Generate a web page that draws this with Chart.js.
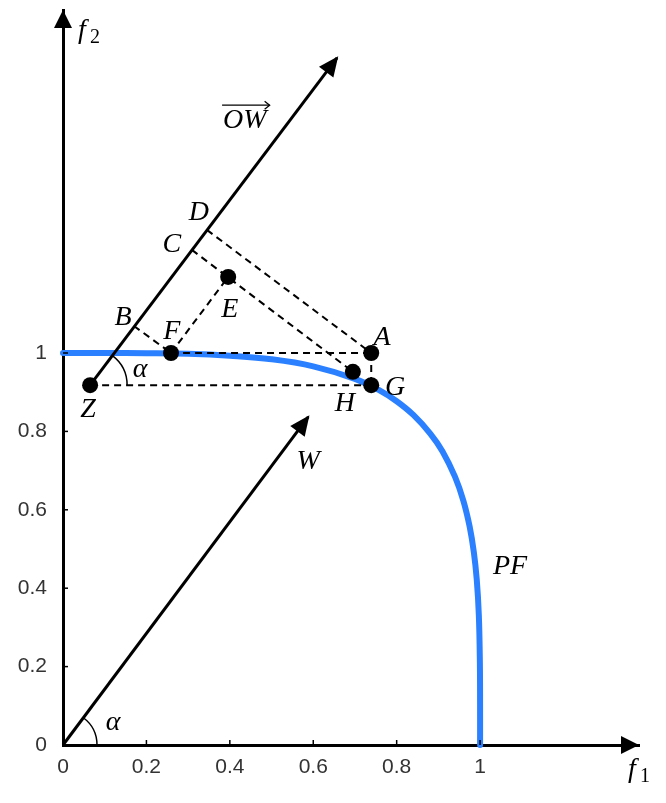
<!DOCTYPE html>
<html><head><meta charset="utf-8">
<script src="https://cdn.jsdelivr.net/npm/chart.js@4"></script>
<style>html,body{margin:0;padding:0;background:#fff}#wrap{width:666px;height:803px;position:relative}</style>
</head><body><div id="wrap"><canvas id="c"></canvas></div>
<script>
// ---- data ----
const tickValues = [0, 0.2, 0.4, 0.6, 0.8, 1];
const tickLabels = ['0', '0.2', '0.4', '0.6', '0.8', '1'];

// Pareto front (PF)
const frontX = [0, 0.1, 0.2, 0.3, 0.4, 0.5, 0.6, 0.7, 0.76, 0.8, 0.84, 0.88, 0.91, 0.94, 0.96, 0.975, 0.985, 0.992, 0.997, 0.9995, 1.0, 1.0];
const frontY = [1.0, 1.0, 0.9996, 0.998, 0.993, 0.984, 0.966, 0.934, 0.904, 0.877, 0.842, 0.795, 0.749, 0.684, 0.623, 0.557, 0.492, 0.422, 0.331, 0.21, 0.1, 0];

// named points
const pointNames = ['Z', 'B', 'C', 'D', 'E', 'F', 'A', 'G', 'H'];
const pointX = [0.065, 0.170, 0.309, 0.345, 0.396, 0.259, 0.739, 0.739, 0.695];
const pointY = [0.918, 1.069, 1.263, 1.314, 1.194, 1.0, 1.0, 0.918, 0.952];
const dotNames = ['Z', 'F', 'E', 'A', 'G', 'H'];
const dashedPairs = [['Z', 'G'], ['F', 'A'], ['A', 'G'], ['B', 'F'], ['F', 'E'], ['C', 'H'], ['D', 'A']];

// vectors
const owTip = [0.657, 1.753];
const wTip = [0.588, 0.837];

// text labels (data coordinates of label centres)
const labelTexts = ['A', 'B', 'C', 'D', 'E', 'F', 'G', 'H', 'Z', 'α', 'α', 'W', 'PF'];
const labelX = [0.765, 0.144, 0.261, 0.326, 0.400, 0.261, 0.796, 0.676, 0.060, 0.185, 0.120, 0.588, 1.072];
const labelY = [1.038, 1.089, 1.276, 1.357, 1.110, 1.054, 0.911, 0.872, 0.855, 0.957, 0.056, 0.722, 0.454];
const owLabel = 'OW';
const owLabelPos = [0.436, 1.594];

// ---- build ----
const P = n => { const i = pointNames.indexOf(n); return {x: pointX[i], y: pointY[i]}; };

const datasets = [];
datasets.push({
  label: 'PF', data: frontX.map((x, i) => ({x, y: frontY[i]})), showLine: true,
  borderColor: '#2b80ff', borderWidth: 6, pointRadius: 0, tension: 0.4, fill: false,
  borderCapStyle: 'round', borderJoinStyle: 'round', clip: false, order: 4
});
dashedPairs.forEach(([a, b]) => datasets.push({
  label: a + b, data: [P(a), P(b)], showLine: true, borderColor: '#000', borderWidth: 2,
  borderDash: [7, 5], pointRadius: 0, clip: false, order: 3
}));
datasets.push({
  label: 'OW', data: [P('Z'), {x: owTip[0], y: owTip[1]}], showLine: true, borderColor: '#000',
  borderWidth: 3, pointRadius: 0, clip: false, order: 2, arrow: true
});
datasets.push({
  label: 'W', data: [{x: 0, y: 0}, {x: wTip[0], y: wTip[1]}], showLine: true, borderColor: '#000',
  borderWidth: 3, pointRadius: 0, clip: false, order: 2, arrow: true
});
datasets.push({
  label: 'points', data: dotNames.map(P), showLine: false, pointRadius: 8, pointHoverRadius: 8,
  pointBackgroundColor: '#000', pointBorderColor: '#000', pointBorderWidth: 0, clip: false, order: 0
});

function head(ctx, tx, ty, ang, len, half) {
  ctx.save();
  ctx.translate(tx, ty); ctx.rotate(ang);
  ctx.beginPath(); ctx.moveTo(0, 0); ctx.lineTo(-len, -half); ctx.lineTo(-len, half); ctx.closePath();
  ctx.fillStyle = '#000'; ctx.fill();
  ctx.restore();
}

const overlay = {
  id: 'overlay',
  afterDatasetsDraw(chart) {
    const {ctx, chartArea: a, scales: {x, y}} = chart;
    const px = v => x.getPixelForValue(v), py = v => y.getPixelForValue(v);
    ctx.save();
    // inner tick marks
    ctx.strokeStyle = '#000'; ctx.lineWidth = 1.5;
    tickValues.forEach(v => {
      if (v === 0) return;
      ctx.beginPath(); ctx.moveTo(px(v), a.bottom); ctx.lineTo(px(v), a.bottom - 5); ctx.stroke();
      ctx.beginPath(); ctx.moveTo(a.left, py(v)); ctx.lineTo(a.left + 5, py(v)); ctx.stroke();
    });
    // axis arrowheads
    head(ctx, a.right, a.bottom, 0, 18, 9);
    head(ctx, a.left, a.top, -Math.PI / 2, 18, 9);
    // vector arrowheads + angle arcs
    chart.data.datasets.forEach((ds, i) => {
      if (!ds.arrow) return;
      const pts = chart.getDatasetMeta(i).data;
      const p0 = pts[0], p1 = pts[pts.length - 1];
      const ang = Math.atan2(p1.y - p0.y, p1.x - p0.x);
      head(ctx, p1.x + 2 * Math.cos(ang), p1.y + 2 * Math.sin(ang), ang, 20, 9);
      ctx.beginPath(); ctx.lineWidth = 1.5;
      ctx.arc(p0.x, p0.y, ds.label === 'OW' ? 37 : 34, ang, 0, false);
      ctx.stroke();
    });
    // point labels
    ctx.fillStyle = '#000'; ctx.textAlign = 'center'; ctx.textBaseline = 'middle';
    ctx.font = 'italic 28px "Liberation Serif"';
    labelTexts.forEach((t, i) => ctx.fillText(t, px(labelX[i]), py(labelY[i])));
    // OW with arrow over it
    const ox = px(owLabelPos[0]), oy = py(owLabelPos[1]);
    ctx.fillText(owLabel, ox, oy);
    const w = ctx.measureText(owLabel).width;
    ctx.lineWidth = 1.3;
    ctx.beginPath(); ctx.moveTo(ox - w / 2 - 1, oy - 15); ctx.lineTo(ox + w / 2 + 3, oy - 15); ctx.stroke();
    ctx.beginPath(); ctx.moveTo(ox + w / 2 - 2, oy - 19); ctx.lineTo(ox + w / 2 + 3, oy - 15); ctx.lineTo(ox + w / 2 - 2, oy - 11); ctx.stroke();
    // axis titles f1, f2
    ctx.textAlign = 'left'; ctx.textBaseline = 'alphabetic';
    const fLabel = (fx, fy, sub) => {
      ctx.font = 'italic 28px "Liberation Serif"';
      ctx.fillText('f', fx, fy);
      ctx.font = '20px "Liberation Serif"';
      ctx.fillText(sub, fx + 12, fy + 5);
    };
    fLabel(a.left + 15, a.top + 28, '2');
    fLabel(a.right - 11, a.bottom + 32, '1');
    ctx.restore();
  }
};

const tickFont = {family: '"Liberation Sans", Arial, sans-serif', size: 21};
new Chart(document.getElementById('c'), {
  type: 'scatter',
  data: {datasets},
  options: {
    responsive: true, maintainAspectRatio: false, animation: false,
    layout: {padding: {top: 10, right: 27, left: 0, bottom: 0}},
    plugins: {legend: {display: false}, tooltip: {enabled: false}, title: {display: false}},
    scales: {
      x: {
        type: 'linear', min: 0, max: 1.381,
        afterBuildTicks: s => { s.ticks = tickValues.map(v => ({value: v})); },
        afterFit: s => { s.height = 58; s.paddingLeft = 0; s.paddingRight = 0; },
        grid: {display: false, drawTicks: false, tickLength: 0},
        border: {display: true, color: '#000', width: 3},
        ticks: {padding: 10, color: '#333', font: tickFont, maxRotation: 0, autoSkip: false,
          callback: (v, i) => tickLabels[i]}
      },
      y: {
        type: 'linear', min: 0, max: 1.875,
        afterBuildTicks: s => { s.ticks = tickValues.map(v => ({value: v})); },
        afterFit: s => { s.width = 63; s.paddingTop = 0; s.paddingBottom = 0; },
        grid: {display: false, drawTicks: false, tickLength: 0},
        border: {display: true, color: '#000', width: 3},
        ticks: {padding: 16, color: '#333', font: tickFont, autoSkip: false,
          callback: (v, i) => tickLabels[i]}
      }
    }
  },
  plugins: [overlay]
});
</script>
</body></html>
